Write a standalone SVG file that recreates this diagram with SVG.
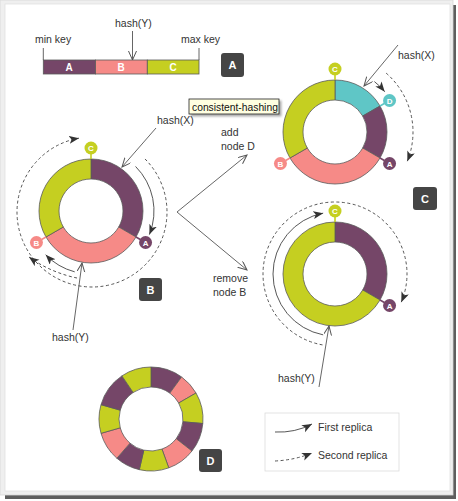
<svg xmlns="http://www.w3.org/2000/svg" width="458" height="501" viewBox="0 0 458 501">
<style>
text{font-family:"Liberation Sans",Arial,sans-serif;font-size:10.5px;fill:#333}
.seg{stroke:#5a5a5a;stroke-width:0.8}
.pu{fill:#754668}.sa{fill:#f68a87}.li{fill:#c5cf21}.te{fill:#5fc6c6}
.badge{fill:#454545}
.bt{fill:#fff;font-weight:bold;font-size:11px;text-anchor:middle}
.mt{fill:#fff;font-weight:bold;font-size:8px;text-anchor:middle}
.bl{fill:#fff;font-weight:bold;font-size:10px;text-anchor:middle}
.stem{stroke-width:1.6}
.ptr{fill:none;stroke:#555;stroke-width:0.9;marker-end:url(#open)}
.rep{fill:none;stroke:#444;stroke-width:0.9;marker-end:url(#fill)}
.dash{stroke-dasharray:3 2.5}
.tick{stroke:#555;stroke-width:0.9}
</style>
<defs>
<marker id="open" markerUnits="userSpaceOnUse" markerWidth="10" markerHeight="10" refX="9" refY="4" orient="auto"><path d="M0,0 L9,4 L0,8" fill="none" stroke="#555" stroke-width="1"/></marker>
<marker id="fill" markerUnits="userSpaceOnUse" markerWidth="12" markerHeight="10" refX="10" refY="4" orient="auto"><path d="M0,0 L10,4 L0,8 L2.5,4 Z" fill="#333"/></marker>
<filter id="sh" x="-10%" y="-10%" width="130%" height="150%"><feDropShadow dx="2" dy="2" stdDeviation="1" flood-color="#000" flood-opacity="0.35"/></filter>
</defs>
<rect width="458" height="501" fill="#fff"/>
<g id="frame">
<rect x="5" y="5" width="451" height="494" fill="#5e5e5e"/>
<rect x="0" y="0" width="453" height="495" fill="#efefef" stroke="#d8d8d8" stroke-width="0.8"/>
<rect x="5" y="4" width="445" height="487" fill="#fff" stroke="#e2e2e2" stroke-width="0.8"/>
</g>
<g id="panel-a">
<line class="tick" x1="43.3" y1="48" x2="43.3" y2="60"/>
<line class="tick" x1="199" y1="48" x2="199" y2="60"/>
<rect class="pu seg" x="43.3" y="60" width="52.2" height="14"/>
<rect class="sa seg" x="95.5" y="60" width="51.8" height="14"/>
<rect class="li seg" x="147.3" y="60" width="51.7" height="14"/>
<text class="bl" x="69" y="71">A</text>
<text class="bl" x="121" y="71">B</text>
<text class="bl" x="173" y="71">C</text>
<text x="35" y="43">min key</text>
<text x="181" y="43">max key</text>
<text x="115" y="27">hash(Y)</text>
</g>
<g id="badge-a"><rect class="badge" x="221" y="53" width="23" height="24" rx="3"/><text class="bt" x="232.5" y="69">A</text></g>
<g id="ring-b" transform="translate(91,211)">
<path class="seg pu" d="M0,-52 A52,52 0 0 1 45.03,26 L27.71,16 A32,32 0 0 0 0,-32 Z"/>
<path class="seg sa" d="M45.03,26 A52,52 0 0 1 -45.03,26 L-27.71,16 A32,32 0 0 0 27.71,16 Z"/>
<path class="seg li" d="M-45.03,26 A52,52 0 0 1 0,-52 L0,-32 A32,32 0 0 0 -27.71,16 Z"/>
<line class="stem" x1="0" y1="-52" x2="0" y2="-57" stroke="#c5cf21"/><circle class="li" cx="0" cy="-63" r="6.5"/><text class="mt" x="0" y="-60">C</text>
<line class="stem" x1="45.03" y1="26" x2="49.3" y2="28.5" stroke="#754668"/><circle class="pu" cx="54.56" cy="31.5" r="6.5"/><text class="mt" x="54.56" y="34.5">A</text>
<line class="stem" x1="-45.03" y1="26" x2="-49.3" y2="28.5" stroke="#f68a87"/><circle class="sa" cx="-54.56" cy="31.5" r="6.5"/><text class="mt" x="-54.56" y="34.5">B</text>
</g>
<g id="badge-b"><rect class="badge" x="139" y="278" width="23" height="23" rx="3"/><text class="bt" x="150.5" y="293.5">B</text></g>
<g id="tooltip">
<rect x="189" y="99" width="90" height="15" fill="#ffffe1" stroke="#222" stroke-width="0.8" filter="url(#sh)"/>
<text x="192" y="110.5" style="font-size:10.3px;fill:#111">consistent-hashing</text>
</g>
<g id="ring-c-add" transform="translate(335,132)">
<path class="seg te" d="M0,-52 A52,52 0 0 1 45.03,-26 L27.71,-16 A32,32 0 0 0 0,-32 Z"/>
<path class="seg pu" d="M45.03,-26 A52,52 0 0 1 45.03,26 L27.71,16 A32,32 0 0 0 27.71,-16 Z"/>
<path class="seg sa" d="M45.03,26 A52,52 0 0 1 -45.03,26 L-27.71,16 A32,32 0 0 0 27.71,16 Z"/>
<path class="seg li" d="M-45.03,26 A52,52 0 0 1 0,-52 L0,-32 A32,32 0 0 0 -27.71,16 Z"/>
<line class="stem" x1="0" y1="-52" x2="0" y2="-57" stroke="#c5cf21"/><circle class="li" cx="0" cy="-63" r="6.5"/><text class="mt" x="0" y="-60">C</text>
<line class="stem" x1="45.03" y1="-26" x2="49.3" y2="-28.5" stroke="#5fc6c6"/><circle class="te" cx="54.56" cy="-31.5" r="6.5"/><text class="mt" x="54.56" y="-28.5">D</text>
<line class="stem" x1="45.03" y1="26" x2="49.3" y2="28.5" stroke="#754668"/><circle class="pu" cx="54.56" cy="31.5" r="6.5"/><text class="mt" x="54.56" y="34.5">A</text>
<line class="stem" x1="-45.03" y1="26" x2="-49.3" y2="28.5" stroke="#f68a87"/><circle class="sa" cx="-54.56" cy="31.5" r="6.5"/><text class="mt" x="-54.56" y="34.5">B</text>
</g>
<g id="ring-c-remove" transform="translate(335,274)">
<path class="seg pu" d="M0,-52 A52,52 0 0 1 45.03,26 L27.71,16 A32,32 0 0 0 0,-32 Z"/>
<path class="seg li" d="M45.03,26 A52,52 0 1 1 0,-52 L0,-32 A32,32 0 1 0 27.71,16 Z"/>
<line class="stem" x1="0" y1="-52" x2="0" y2="-57" stroke="#c5cf21"/><circle class="li" cx="0" cy="-63" r="6.5"/><text class="mt" x="0" y="-60">C</text>
<line class="stem" x1="45.03" y1="26" x2="49.3" y2="28.5" stroke="#754668"/><circle class="pu" cx="54.56" cy="31.5" r="6.5"/><text class="mt" x="54.56" y="34.5">A</text>
</g>
<g id="badge-c"><rect class="badge" x="413" y="187" width="24" height="23" rx="3"/><text class="bt" x="425" y="202.5">C</text></g>
<g id="ring-d" transform="translate(151,419)">
<path class="seg pu" d="M0,-52 A52,52 0 0 1 30.57,-42.07 L18.81,-25.89 A32,32 0 0 0 0,-32 Z"/>
<path class="seg sa" d="M30.57,-42.07 A52,52 0 0 1 45.03,-26 L27.71,-16 A32,32 0 0 0 18.81,-25.89 Z"/>
<path class="seg li" d="M45.03,-26 A52,52 0 0 1 51.8,4.53 L31.88,2.79 A32,32 0 0 0 27.71,-16 Z"/>
<path class="seg pu" d="M51.8,4.53 A52,52 0 0 1 40.98,32.02 L25.22,19.7 A32,32 0 0 0 31.88,2.79 Z"/>
<path class="seg sa" d="M40.98,32.02 A52,52 0 0 1 17.78,48.86 L10.94,30.07 A32,32 0 0 0 25.22,19.7 Z"/>
<path class="seg li" d="M17.78,48.86 A52,52 0 0 1 -11.7,50.67 L-7.2,31.18 A32,32 0 0 0 10.94,30.07 Z"/>
<path class="seg pu" d="M-11.7,50.67 A52,52 0 0 1 -34.12,39.24 L-20.99,24.15 A32,32 0 0 0 -7.2,31.18 Z"/>
<path class="seg sa" d="M-34.12,39.24 A52,52 0 0 1 -49.99,14.33 L-30.76,8.82 A32,32 0 0 0 -20.99,24.15 Z"/>
<path class="seg li" d="M-49.99,14.33 A52,52 0 0 1 -49.99,-14.33 L-30.76,-8.82 A32,32 0 0 0 -30.76,8.82 Z"/>
<path class="seg pu" d="M-49.99,-14.33 A52,52 0 0 1 -29.08,-43.11 L-17.89,-26.53 A32,32 0 0 0 -30.76,-8.82 Z"/>
<path class="seg li" d="M-29.08,-43.11 A52,52 0 0 1 0,-52 L0,-32 A32,32 0 0 0 -17.89,-26.53 Z"/>
</g>
<g id="badge-d"><rect class="badge" x="199" y="449" width="23" height="23" rx="3"/><text class="bt" x="210.5" y="464.5">D</text></g>
<g id="labels">
<text x="157" y="124">hash(X)</text>
<text x="52" y="341">hash(Y)</text>
<text x="398" y="59">hash(X)</text>
<text x="221" y="136">add</text>
<text x="221" y="150">node D</text>
<text x="213" y="282">remove</text>
<text x="213" y="296">node B</text>
<text x="278" y="382">hash(Y)</text>
</g>
<g id="legend">
<rect x="265" y="413" width="134" height="58" fill="#fff" stroke="#dcdcdc" stroke-width="0.8"/>
<text x="318" y="431">First replica</text>
<text x="318" y="459">Second replica</text>
</g>
<g id="connectors">
<line class="ptr" x1="132.5" y1="31" x2="132.5" y2="60"/>
<line class="ptr" x1="156" y1="128" x2="122" y2="167"/>
<line class="ptr" x1="73" y1="330" x2="82" y2="263"/>
<path class="rep" d="M135.55,166.45 A63,63 0 0 1 149.41,234.6"/>
<path class="rep" d="M74.7,271.85 A63,63 0 0 1 45.68,254.77"/>
<path class="rep dash" d="M77,278 C62,275 44,268 29,257"/>
<path class="rep dash" d="M145.03,158.97 A75,75 0 1 1 78.98,138.14"/>
<line class="ptr" x1="177" y1="212" x2="247" y2="155"/>
<line class="ptr" x1="177" y1="212" x2="247" y2="270"/>
<line class="ptr" x1="398" y1="45" x2="364" y2="86"/>
<path class="rep" d="M374.4,81.57 A64,64 0 0 1 384.73,91.73"/>
<path class="rep dash" d="M386.17,73.13 A78,78 0 0 1 407.32,161.22"/>
<path class="rep dash" d="M322.5,344.9 A72,72 0 1 1 401.28,302.13"/>
<path class="rep" d="M323.17,334.86 A62,62 0 0 1 323.17,213.14"/>
<line class="ptr" x1="319" y1="387" x2="329" y2="326"/>
<path class="rep" d="M275,432 Q295,433 312,424"/>
<path class="rep dash" d="M275,461 Q295,460 312,453"/>
</g>
</svg>
